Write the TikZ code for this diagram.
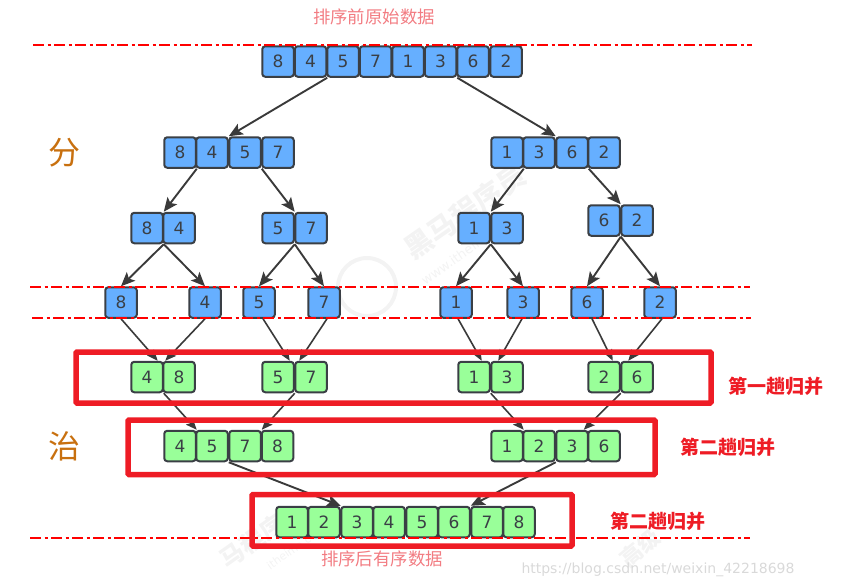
\documentclass[tikz,border=0pt]{standalone}
\usepackage{fontspec}
\setmainfont{DejaVu Sans}
\newfontfamily\cjk{Noto Sans CJK SC}
\usetikzlibrary{arrows.meta}
\definecolor{cellblue}{HTML}{66AFFF}
\definecolor{cellgreen}{HTML}{99FF99}
\definecolor{celledge}{HTML}{3A3F45}
\definecolor{arrowgray}{HTML}{3A3A3A}
\definecolor{framered}{HTML}{EE1C25}
\definecolor{titlered}{HTML}{F27C82}
\definecolor{sideorange}{HTML}{C8700F}
\definecolor{markgray}{HTML}{F3F3F3}
\tikzset{
  cell/.style={draw=celledge,line width=2pt,rounded corners=3pt,minimum width=31.5pt,
    minimum height=30.5pt,inner sep=0pt,text=celledge,font=\fontsize{17}{17}\selectfont},
  bluecell/.style={cell,fill=cellblue},
  greencell/.style={cell,fill=cellgreen},
  link/.style={draw=arrowgray,line width=1.9pt,-{Stealth[length=14pt,width=12pt,inset=3pt]}},
  thinlink/.style={draw=arrowgray,line width=1.6pt,-{Stealth[length=11pt,width=9pt,inset=2pt]}},
  cutline/.style={draw=red,line width=2.2pt,dash pattern=on 11pt off 3.5pt on 3pt off 3.5pt},
  passframe/.style={draw=framered,line width=5.5pt,rounded corners=1pt},
  titletext/.style={text=titlered,font=\cjk\fontsize{17.4}{17.4}\selectfont,inner sep=0pt},
  sidetext/.style={text=sideorange,font=\cjk\fontsize{32}{32}\selectfont,inner sep=0pt},
  passtext/.style={text=framered,font=\cjk\bfseries\fontsize{19}{19}\selectfont,inner sep=0pt},
  wmark/.style={text=markgray,font=\cjk\bfseries\fontsize{28}{28}\selectfont,inner sep=0pt},
}
\begin{document}
\begin{tikzpicture}[x=1pt,y=-1pt]
  \useasboundingbox (0,0) rectangle (850,576);

  % watermark
  \draw[markgray,line width=4pt] (367,287) circle (29);
  \node[wmark,rotate=35] (markA) at (465,212) {黑马程序员};
  \node[wmark,rotate=35,font=\fontsize{13}{13}\selectfont] (markB) at (470,248) {www.itheima.com};
  \node[wmark,rotate=35,font=\cjk\bfseries\fontsize{24}{24}\selectfont] (markC) at (252,541) {马程序};
  \node[wmark,rotate=35,font=\fontsize{11}{11}\selectfont] (markD) at (296,547) {itheima.com};
  \node[wmark,rotate=40,font=\cjk\bfseries\fontsize{22}{22}\selectfont] (markE) at (640,548) {高级};
  \node[text=black!15,font=\fontsize{14}{14}\selectfont,inner sep=0pt] (url) at (658,570) {https://blog.csdn.net/weixin\_42218698};

  % divide
  \foreach \i/\x/\v in {1/278/8,2/310.5/4,3/343/5,4/375.5/7,5/408/1,6/440.5/3,7/473/6,8/506/2}
    \node[bluecell] (a\i) at (\x,61.5) {\v};
  \foreach \i/\x/\v in {1/180/8,2/212/4,3/245/5,4/278/7,5/507/1,6/539/3,7/572/6,8/604/2}
    \node[bluecell] (b\i) at (\x,152.5) {\v};
  \foreach \i/\x/\v in {1/147/8,2/179/4,3/278/5,4/311/7,5/474/1,6/507/3}
    \node[bluecell] (c\i) at (\x,228) {\v};
  \foreach \i/\x/\v in {7/604/6,8/637/2}
    \node[bluecell] (c\i) at (\x,220.5) {\v};
  \foreach \i/\x/\v in {1/121/8,2/205/4,3/259/5,4/324/7,5/456/1,6/523/3,7/587/6,8/660/2}
    \node[bluecell] (d\i) at (\x,302.5) {\v};

  % merge
  \foreach \i/\x/\v in {1/147/4,2/179/8,3/278/5,4/311/7,5/474/1,6/507/3,7/604/2,8/637/6}
    \node[greencell] (e\i) at (\x,377) {\v};
  \foreach \i/\x/\v in {1/180/4,2/212/5,3/245/7,4/277.5/8,5/507/1,6/539/2,7/572/3,8/604/6}
    \node[greencell] (f\i) at (\x,446) {\v};
  \foreach \i/\x/\v in {1/292/1,2/324/2,3/357/3,4/389/4,5/422/5,6/454/6,7/487/7,8/519/8}
    \node[greencell] (g\i) at (\x,522) {\v};

  % links
  \draw[link] (a2.south east) -- (b2.north east);
  \draw[link] (a6.south east) -- (b6.north east);
  \draw[link] (b1.south east) -- (c1.north east);
  \draw[link] (b3.south east) -- (c3.north east);
  \draw[link] (b5.south east) -- (c5.north east);
  \draw[link] (b7.south east) -- (c7.north east);
  \foreach \p/\l/\r in {c1/d1/d2,c3/d3/d4,c5/d5/d6,c7/d7/d8} {
    \draw[link] (\p.south east) -- (\l.north);
    \draw[link] (\p.south east) -- (\r.north);
  }
  \foreach \f/\fx/\t/\tx in {d1/0/e1/-6,d2/0/e2/3,d3/4/e3/-5,d4/3/e4/5,d5/2/e5/-9,d6/-1/e6/8,d7/5/e7/-8,d8/2/e8/8}
    \draw[thinlink] ([xshift=\fx pt]\f.south) -- ([xshift=\tx pt]\t.north \ifnum\tx<0 east\else west\fi);
  \draw[thinlink] (e1.south east) -- (f1.north east);
  \draw[thinlink] (e3.south east) -- (f3.north east);
  \draw[thinlink] (e5.south east) -- (f5.north east);
  \draw[thinlink] (e7.south east) -- ([xshift=-5pt]f7.north east);
  \draw[link] (f2.south east) -- (g2.north east);
  \draw[link] (f6.south east) -- (g6.north east);

  % marks over the picture
  \draw[cutline] (33,44.6) -- (752,44.6);
  \draw[cutline] (30,287) -- (750,287);
  \draw[cutline] (32,317.8) -- (751,317.8);
  \draw[cutline] (30,538) -- (750,538);
  \draw[passframe] (76,352) rectangle (711,403);
  \draw[passframe] (128,420) rectangle (655,474.5);
  \draw[passframe] (252,494.5) rectangle (572,546);

  \node[titletext] (before) at (374,17) {排序前原始数据};
  \node[titletext] (after) at (382,559) {排序后有序数据};
  \node[sidetext] (split) at (64,153) {分};
  \node[sidetext] (conquer) at (64,446) {治};
  \node[passtext] (pass1) at (776,386) {第一趟归并};
  \node[passtext] (pass2) at (728,447) {第二趟归并};
  \node[passtext] (pass3) at (658,521) {第二趟归并};
\end{tikzpicture}
\end{document}
